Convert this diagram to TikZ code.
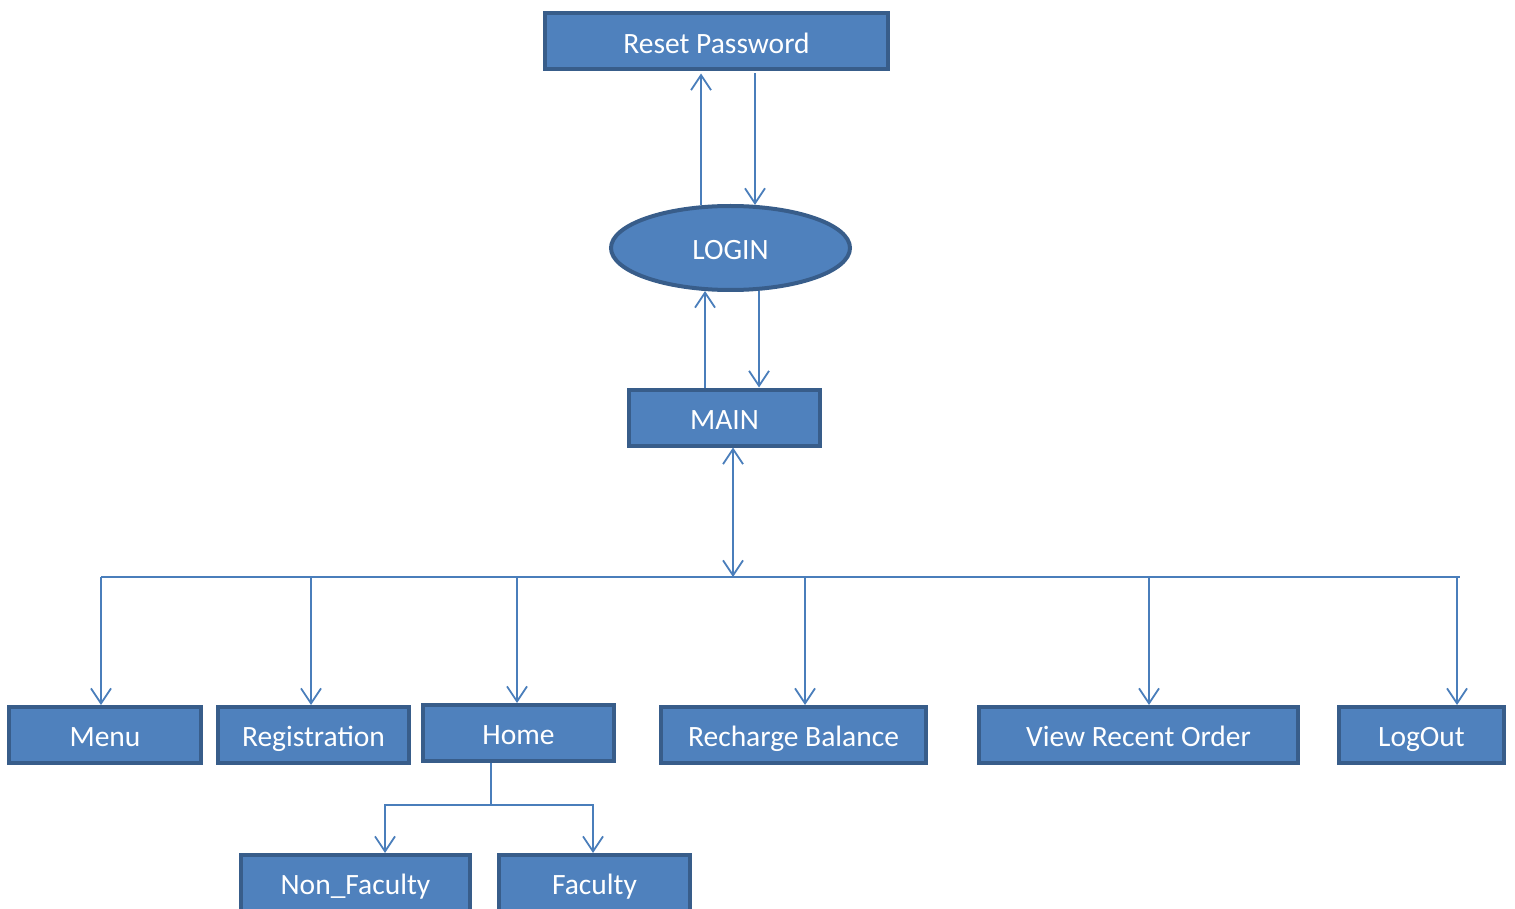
\documentclass[tikz,border=0pt]{standalone}
\usepackage{fontspec}
\setmainfont{Carlito}
\usetikzlibrary{arrows.meta,shapes.geometric,calc}
\definecolor{boxfill}{HTML}{4F81BD}
\definecolor{boxline}{HTML}{385D8A}
\definecolor{conn}{HTML}{4A7EBB}
\tikzset{
  txt/.style={text=white, font=\fontsize{29.5}{34}\selectfont, text height=26.5pt, text depth=2.7pt},
  box/.style={draw=boxline, fill=boxfill, line width=4pt, txt, minimum height=56pt, inner sep=0pt},
  oval/.style={ellipse, draw=boxline, fill=boxfill, line width=4pt, txt, inner sep=0pt},
  link/.style={draw=conn, line width=1.8pt},
  arr/.style={link, -{Straight Barb[length=15pt,width=20pt]}},
  darr/.style={link, {Straight Barb[length=15pt,width=20pt]}-{Straight Barb[length=15pt,width=20pt]}}
}
\begin{document}
\begin{tikzpicture}[x=1pt,y=-1pt]
\useasboundingbox (0,0) rectangle (1515,909);
% nodes
\node[box, minimum width=343pt] (reset) at (716.5,41.5) {Reset Password};
\node[oval, minimum width=239pt, minimum height=84pt] (login) at (730.5,248) {LOGIN};
\node[box, minimum width=191pt] (main) at (724.5,417.5) {MAIN};
\node[box, minimum width=192pt] (menu) at (105,735) {Menu};
\node[box, minimum width=191pt] (reg) at (313.5,735) {Registration};
\node[box, minimum width=191pt] (home) at (518.5,733) {Home};
\node[box, minimum width=265pt] (rech) at (793.5,735) {Recharge Balance};
\node[box, minimum width=319pt] (view) at (1138.5,735) {View Recent Order};
\node[box, minimum width=165pt] (logout) at (1421.5,735) {LogOut};
\node[box, minimum width=229pt] (nonfac) at (355.5,883) {Non\_Faculty};
\node[box, minimum width=191pt] (fac) at (594.5,883) {Faculty};
% Reset <-> Login
\draw[arr] ($(login.center)+(-29.5,-42.7)$) -- ($(reset.south)+(-15.5,2)$);
\draw[arr] ($(reset.south)+(38.5,2)$) -- ($(login.center)+(24.5,-43.1)$);
% Login <-> Main
\draw[arr] ($(main.north)+(-19.5,0)$) -- ($(login.center)+(-25.5,43)$);
\draw[arr] ($(login.center)+(28.5,42.8)$) -- ($(main.north)+(34.5,0)$);
% Main <-> bus
\coordinate (busL) at (101,577);
\coordinate (busR) at (1460,577);
\coordinate (mb) at ($(main.south)+(8.5,0)$);
\draw[darr] (mb) -- (mb |- busL);
\draw[link] (busL) -- (busR);
% drops
\coordinate (d1) at ($(menu.north)+(-4,0)$);
\coordinate (d2) at ($(reg.north)+(-2.5,0)$);
\coordinate (d3) at ($(home.north)+(-1.5,0)$);
\coordinate (d4) at ($(rech.north)+(11.5,0)$);
\coordinate (d5) at ($(view.north)+(10.5,0)$);
\coordinate (d6) at ($(logout.north)+(35.5,0)$);
\foreach \d in {d1,d2,d3,d4,d5,d6}{
  \draw[arr] (\d |- busL) -- (\d);
}
% Home -> sub
\coordinate (hs) at ($(home.south)+(-27.5,0)$);
\coordinate (split) at ($(hs)+(0,42)$);
\coordinate (nf) at ($(nonfac.north)+(29.5,0)$);
\coordinate (fa) at ($(fac.north)+(-1.5,0)$);
\draw[link] (hs) -- (split);
\draw[arr] (split) -| (nf);
\draw[arr] (split) -| (fa);
\end{tikzpicture}
\end{document}
